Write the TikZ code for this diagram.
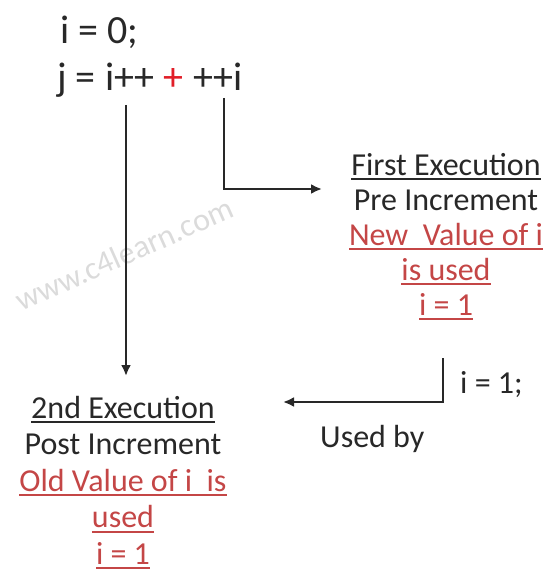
\documentclass[tikz,border=0pt]{standalone}
\usepackage{fontspec}
\setmainfont{Carlito}
\usetikzlibrary{arrows.meta}
\definecolor{InkGray}{RGB}{40,40,40}
\definecolor{NoteRed}{RGB}{196,70,70}
\definecolor{SignRed}{RGB}{225,30,40}
\newsavebox\UnderBox
\newcommand\UnderBar[1]{\sbox\UnderBox{#1}\leavevmode\rlap{\vrule width\wd\UnderBox height -2.6pt depth 4.6pt}\usebox\UnderBox}
\begin{document}
\begin{tikzpicture}[x=1pt,y=-1pt,
	every node/.style={inner sep=0pt,text=InkGray,font=\fontsize{32}{35}\selectfont},
	code/.style={anchor=base west,font=\fontsize{40}{44}\selectfont},
	flow/.style={line width=2.6pt,draw=InkGray,-{Latex[length=11pt,width=10pt]}}]
	\useasboundingbox (0,0) rectangle (550,580);
	
	\node[text=black!14,rotate=24] (Mark) at (124,254) {www.c4learn.com};% watermark
	
	% the two lines of code
	\node[code] (InitLine) at (60,44) {i = 0;};
	\node[code] (JEq) at (57,91) {j =};
	\node[code] (PostInc) at ([xshift=9pt]JEq.base east) {i++};
	\node[code,text=SignRed] (PlusSign) at ([xshift=9pt]PostInc.base east) {+};
	\node[code] (PreInc) at ([xshift=9pt]PlusSign.base east) {++i};
	
	% the two executions
	\node[align=center,anchor=north] (PreCol) at (446,153)
		{\UnderBar{First Execution}\\ Pre Increment\\
		\textcolor{NoteRed}{\UnderBar{New\ \ Value of i}}\\
		\textcolor{NoteRed}{\UnderBar{is used}}\\
		\textcolor{NoteRed}{\UnderBar{i = 1}}};
	\node[align=center,anchor=north,font=\fontsize{32}{36.5}\selectfont] (PostCol) at (123,396)
		{\UnderBar{2nd Execution}\\ Post Increment\\
		\textcolor{NoteRed}{\UnderBar{Old Value of i\ \ is}}\\
		\textcolor{NoteRed}{\UnderBar{used}}\\
		\textcolor{NoteRed}{\UnderBar{i = 1}}};
	
	\coordinate (PostFoot) at (126,105);
	\coordinate (PreFoot)  at (224,98);
	\coordinate (PreTip)   at (322,189);
	\coordinate (UsedFoot) at (443,358);
	\coordinate (UsedTip)  at (283,402);
	
	\draw [flow,shorten >=20pt] (PostFoot) -- (PostFoot |- PostCol.north) ;% post increment
	\draw [flow] (PreFoot) |- (PreTip) ;% pre increment
	\draw [flow] (UsedFoot) |- (UsedTip) ;% value handed on
	
	\node[anchor=base west] (HandOver) at (460,393) {i = 1;};
	\node[anchor=base west] (UsedBy) at (320,447) {Used by};
	
\end{tikzpicture}
\end{document}
